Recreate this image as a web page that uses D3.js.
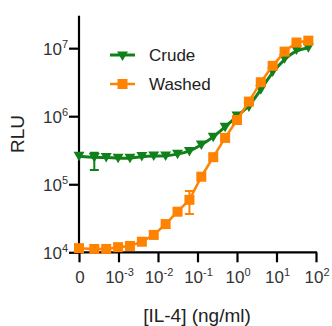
<!DOCTYPE html>
<html><head><meta charset="utf-8">
<script src="https://cdn.jsdelivr.net/npm/d3@7"></script>
<style>
html,body{margin:0;padding:0;background:#fff;}
svg{display:block;font-family:"Liberation Sans",Arial,sans-serif;}
</style></head>
<body><svg id="c" width="332" height="326"></svg>
<script>
// ---- data ----
const conc = [0, 0.000244, 0.000488, 0.000977, 0.00195, 0.0039, 0.0078, 0.0156, 0.03125, 0.0625,
              0.125, 0.25, 0.5, 1, 2, 4, 8, 16, 32, 64];
const crude = [2.57e5, 2.48e5, 2.48e5, 2.41e5, 2.41e5, 2.55e5, 2.6e5, 2.6e5, 2.76e5, 3.02e5,
               3.78e5, 4.91e5, 6.9e5, 1.01e6, 1.37e6, 2.44e6, 4.48e6, 6.97e6, 9.4e6, 1.01e7];
const washed = [1.15e4, 1.12e4, 1.12e4, 1.19e4, 1.24e4, 1.43e4, 1.8e4, 2.6e4, 3.95e4, 5.9e4,
                1.29e5, 2.5e5, 4.8e5, 8.8e5, 1.64e6, 3.16e6, 5.5e6, 8.9e6, 1.21e7, 1.29e7];
// error bars: [index, low, high]
const crudeErr = [[1, 1.62e5, 2.9e5]];
const washedErr = [[9, 3.66e4, 7.96e4]];
const yTicks = [4, 5, 6, 7];            // exponents
const xTicks = [-4, -3, -2, -1, 0, 1, 2]; // exponents, -4 labelled "0"
const seriesNames = ["Crude", "Washed"];
const colors = ["#12801a", "#ff8200"];

// ---- layout ----
const svg = d3.select("#c");
const x = d3.scaleLog().domain([1e-4, 1e2]).range([79, 316]);
const y = d3.scaleLog().domain([1e4, 3e7]).range([252.3, 15.7]);
const px = c => c === 0 ? x(1e-4) : x(c);

// axes
const yAxis = svg.append("g").attr("transform", "translate(79,0)")
  .call(d3.axisLeft(y).tickValues(yTicks.map(e => Math.pow(10, e))).tickSize(10).tickFormat(""));
const xAxis = svg.append("g").attr("transform", "translate(0,252.3)")
  .call(d3.axisBottom(x).tickValues(xTicks.map(e => Math.pow(10, e))).tickSize(10).tickFormat(""));
[yAxis, xAxis].forEach(g => {
  g.select(".domain").attr("stroke", "#000").attr("stroke-width", 2.2).attr("d",
    g === yAxis ? "M0,15.7V253.4" : "M78,0H317");
  g.selectAll(".tick line").attr("stroke", "#000").attr("stroke-width", 2.2);
});

// y tick labels
yTicks.forEach(e => {
  const t = svg.append("text").attr("x", 68).attr("y", y(Math.pow(10, e)) + 6.5)
    .attr("text-anchor", "end").attr("fill", "#333").attr("font-size", 17);
  t.append("tspan").text("10");
  t.append("tspan").attr("dy", -7).attr("font-size", 11).text(e);
});
// x tick labels
xTicks.forEach(e => {
  const t = svg.append("text").attr("x", x(Math.pow(10, e)) + 1).attr("y", 283)
    .attr("text-anchor", "middle").attr("fill", "#333").attr("font-size", 17);
  if (e === -4) { t.text("0"); return; }
  t.append("tspan").text("10");
  t.append("tspan").attr("dy", -7).attr("font-size", 11).text(e < 0 ? "-" + (-e) : e);
});

// axis titles
svg.append("text").attr("transform", "translate(24,134) rotate(-90)")
  .attr("text-anchor", "middle").attr("font-size", 19).attr("fill", "#222").text("RLU");
svg.append("text").attr("x", 197).attr("y", 322).attr("text-anchor", "middle")
  .attr("font-size", 19).attr("fill", "#222").text("[IL-4] (ng/ml)");

// markers
const tri = (g, cx, cy, col) => g.append("path")
  .attr("d", `M${cx - 5.5},${cy - 4.5}L${cx + 5.5},${cy - 4.5}L${cx},${cy + 5}Z`).attr("fill", col);
const sq = (g, cx, cy, col) => g.append("rect")
  .attr("x", cx - 5).attr("y", cy - 5).attr("width", 10).attr("height", 10).attr("fill", col);

function drawErr(errs, col) {
  errs.forEach(([i, lo, hi]) => {
    const cx = px(conc[i]);
    svg.append("path").attr("d",
      `M${cx},${y(hi)}V${y(lo)}M${cx - 4.5},${y(hi)}H${cx + 4.5}M${cx - 4.5},${y(lo)}H${cx + 4.5}`)
      .attr("stroke", col).attr("stroke-width", 2).attr("fill", "none");
  });
}

// crude series (smooth curve)
const lineC = d3.line().x((d, i) => px(conc[i])).y(d => y(d)).curve(d3.curveBasis);
drawErr(crudeErr, colors[0]);
svg.append("path").datum(crude).attr("d", lineC).attr("fill", "none")
  .attr("stroke", colors[0]).attr("stroke-width", 3);
const gC = svg.append("g");
crude.forEach((v, i) => tri(gC, px(conc[i]), y(v), colors[0]));

// washed series (point-to-point)
const lineW = d3.line().x((d, i) => px(conc[i])).y(d => y(d));
drawErr(washedErr, colors[1]);
svg.append("path").datum(washed).attr("d", lineW).attr("fill", "none")
  .attr("stroke", colors[1]).attr("stroke-width", 2.5);
const gW = svg.append("g");
washed.forEach((v, i) => sq(gW, px(conc[i]), y(v), colors[1]));

// legend
const leg = svg.append("g");
[0, 1].forEach(k => {
  const ly = 55 + k * 29;
  leg.append("line").attr("x1", 110).attr("x2", 135).attr("y1", ly).attr("y2", ly)
    .attr("stroke", colors[k]).attr("stroke-width", k ? 2.5 : 3);
  if (k === 0) tri(leg, 122.5, ly + 1, colors[0]); else sq(leg, 122.5, ly, colors[1]);
  leg.append("text").attr("x", 149).attr("y", ly + 6).attr("font-size", 17).attr("fill", "#222")
    .text(seriesNames[k]);
});
</script></body></html>
